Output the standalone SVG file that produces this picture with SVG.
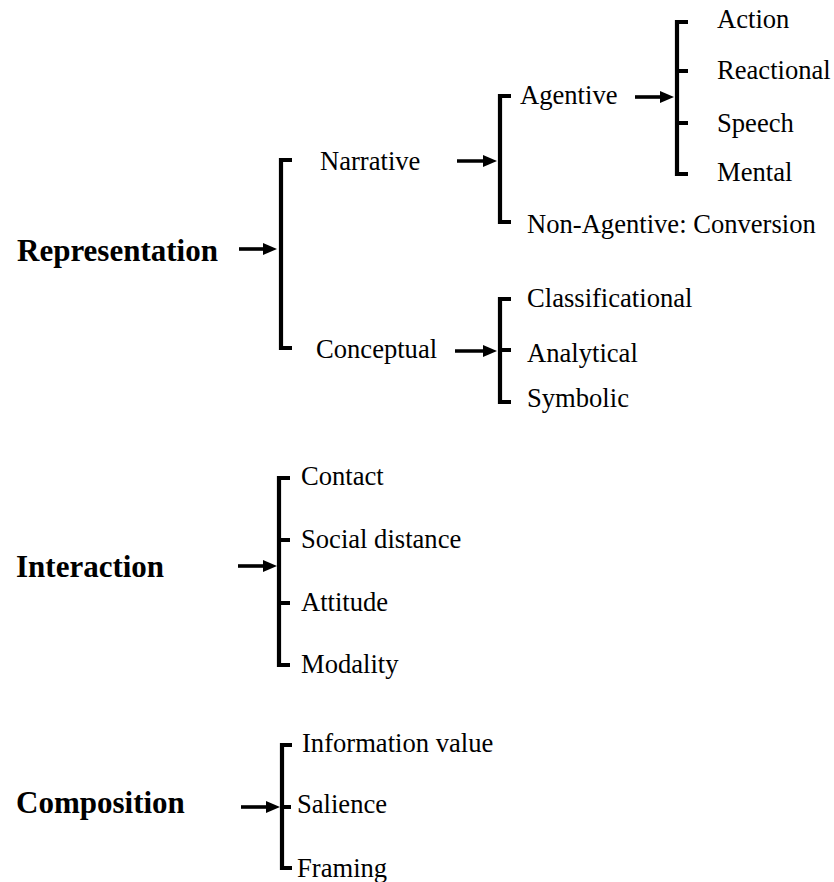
<svg xmlns="http://www.w3.org/2000/svg" width="834" height="882" viewBox="0 0 834 882">
  <style>
    .lbl { font-family: "Liberation Serif", "Times New Roman", serif; font-size: 26.6px; fill: #000; }
    .head { font-family: "Liberation Serif", "Times New Roman", serif; font-size: 31px; font-weight: bold; fill: #000; }
    .br { fill: none; stroke: #000; stroke-width: 4.2; stroke-linejoin: miter; stroke-linecap: butt; }
    .ar { fill: none; stroke: #000; stroke-width: 3.6; marker-end: url(#ah); }
  </style>
  <defs>
    <marker id="ah" markerUnits="userSpaceOnUse" markerWidth="14" markerHeight="12" refX="7" refY="6" orient="auto">
      <path d="M0,0 L14,6 L0,12 z" fill="#000"/>
    </marker>
  </defs>
  <rect width="834" height="882" fill="#fff"/>

  <!-- brackets and arrows -->
  <g id="connectors">
    <path class="br" d="M292,160 H281 V348 H292"/>
    <path class="br" d="M511,96 H500 V222 H511"/>
    <path class="br" d="M688,22 H677 V174 H688 M677,71 H688 M677,123 H688"/>
    <path class="br" d="M511,299 H500 V402 H511 M500,350 H511"/>
    <path class="br" d="M290,478 H279 V665 H290 M279,540 H290 M279,603 H290"/>
    <path class="br" d="M292,745 H282 V868 H292 M282,807 H291"/>

    <line class="ar" x1="239" y1="249" x2="270" y2="249"/>
    <line class="ar" x1="457" y1="161" x2="490" y2="161"/>
    <line class="ar" x1="635" y1="97" x2="667" y2="97"/>
    <line class="ar" x1="455" y1="351" x2="490" y2="351"/>
    <line class="ar" x1="238" y1="566" x2="270" y2="566"/>
    <line class="ar" x1="241" y1="807" x2="273" y2="807"/>
  </g>

  <g id="representation"><text class="head" x="17" y="261">Representation</text></g>
  <g id="narrative"><text class="lbl" x="320" y="170">Narrative</text></g>
  <g id="conceptual"><text class="lbl" x="316" y="358">Conceptual</text></g>
  <g id="agentive"><text class="lbl" x="520" y="104">Agentive</text></g>
  <g id="non-agentive"><text class="lbl" x="527" y="233">Non-Agentive: Conversion</text></g>
  <g id="action"><text class="lbl" x="717" y="28">Action</text></g>
  <g id="reactional"><text class="lbl" x="717" y="79">Reactional</text></g>
  <g id="speech"><text class="lbl" x="717" y="132">Speech</text></g>
  <g id="mental"><text class="lbl" x="717" y="181">Mental</text></g>
  <g id="classificational"><text class="lbl" x="527" y="307">Classificational</text></g>
  <g id="analytical"><text class="lbl" x="527" y="362">Analytical</text></g>
  <g id="symbolic"><text class="lbl" x="527" y="407">Symbolic</text></g>

  <g id="interaction"><text class="head" x="16" y="577">Interaction</text></g>
  <g id="contact"><text class="lbl" x="301" y="485">Contact</text></g>
  <g id="social-distance"><text class="lbl" x="301" y="548">Social distance</text></g>
  <g id="attitude"><text class="lbl" x="301" y="611">Attitude</text></g>
  <g id="modality"><text class="lbl" x="301" y="673">Modality</text></g>

  <g id="composition"><text class="head" x="16" y="813">Composition</text></g>
  <g id="information-value"><text class="lbl" x="302" y="752">Information value</text></g>
  <g id="salience"><text class="lbl" x="297" y="813">Salience</text></g>
  <g id="framing"><text class="lbl" x="297" y="877">Framing</text></g>
</svg>
